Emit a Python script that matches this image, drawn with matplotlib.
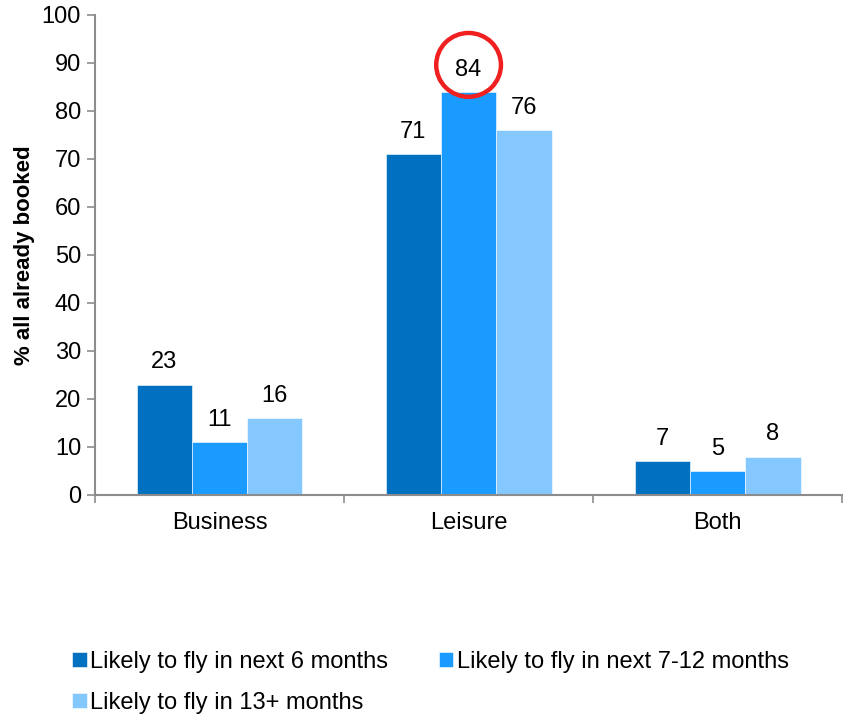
"""Share of trips already booked by traveller type and flying horizon."""

import matplotlib

matplotlib.use("Agg")
import matplotlib.pyplot as plt
import numpy as np
from matplotlib.patches import Ellipse

plt.rcParams["font.family"] = ["Liberation Sans", "DejaVu Sans"]

categories = ["Business", "Leisure", "Both"]
series_names = [
    "Likely to fly in next 6 months",
    "Likely to fly in next 7-12 months",
    "Likely to fly in 13+ months",
]
next_6_months = [23, 71, 7]
next_7_12_months = [11, 84, 5]
after_13_months = [16, 76, 8]
y_ticks = [0, 10, 20, 30, 40, 50, 60, 70, 80, 90, 100]

colors = ["#0070C0", "#1A9BFF", "#85C8FF"]
axis_grey = "#8C8C8C"


def main() -> None:
    fig = plt.figure(figsize=(8.43, 7.16), dpi=100)
    ax = fig.add_axes([0.1127, 0.3087, 0.8863, 0.6704])

    x = np.arange(len(categories))
    width = 0.222
    values = [next_6_months, next_7_12_months, after_13_months]
    containers = []
    for i, (name, vals) in enumerate(zip(series_names, values)):
        bars = ax.bar(
            x + (i - 1) * width,
            vals,
            width,
            color=colors[i],
            label=name,
            edgecolor="white",
            linewidth=0.4,
        )
        containers.append(bars)
        ax.bar_label(bars, padding=8, fontsize=17)

    ax.set_xlim(-0.5, len(categories) - 0.5)
    ax.set_ylim(0, 100)
    ax.set_yticks(y_ticks)
    ax.tick_params(axis="y", labelsize=17, length=6, width=1.2, color=axis_grey, pad=4)
    ax.set_xticks(x)
    ax.set_xticklabels(categories)
    ax.tick_params(axis="x", which="major", length=0, labelsize=17, pad=12)
    ax.set_xticks(np.arange(-0.5, len(categories)), minor=True)
    ax.tick_params(axis="x", which="minor", length=6, width=1.2, color=axis_grey)

    for side in ("top", "right"):
        ax.spines[side].set_visible(False)
    for side in ("left", "bottom"):
        ax.spines[side].set_color(axis_grey)
        ax.spines[side].set_linewidth(1.5)

    ax.set_ylabel("% all already booked", fontsize=16, fontweight="bold", labelpad=5)

    # red ring highlighting the leisure 7-12 month value
    ring = Ellipse(
        (x[1], 89.6),
        width=0.26,
        height=13.3,
        fill=False,
        edgecolor="#F02020",
        linewidth=3.2,
        clip_on=False,
    )
    ax.add_patch(ring)

    # legend fills row by row in the reference
    order = [0, 2, 1]
    fig.legend(
        handles=[containers[i] for i in order],
        labels=[series_names[i] for i in order],
        loc="upper left",
        bbox_to_anchor=(0.086, 0.091),
        ncol=2,
        frameon=False,
        fontsize=17,
        handlelength=0.6,
        handleheight=0.6,
        handletextpad=0.15,
        columnspacing=2.15,
        labelspacing=0.8,
        borderaxespad=0,
        borderpad=0,
    )

    fig.savefig("out.png", dpi=100)
    plt.close(fig)


if __name__ == "__main__":
    main()
